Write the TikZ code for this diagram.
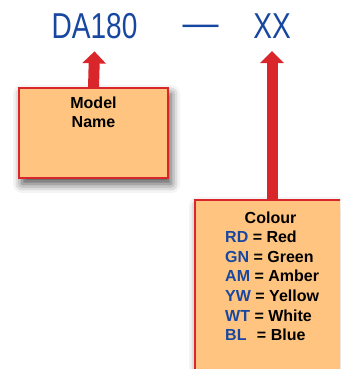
\documentclass[tikz,border=0pt]{standalone}
\usepackage{fontspec}
\setmainfont{Liberation Sans}
\newfontfamily\condfont[FakeStretch=0.78]{Liberation Sans}
\usetikzlibrary{arrows.meta,shadows.blur}
\definecolor{tblue}{HTML}{1747A0}
\definecolor{tred}{HTML}{D9262B}
\definecolor{torange}{HTML}{FFC47F}
\begin{document}
\begin{tikzpicture}[x=1pt,y=-1pt,
  box/.style={draw=tred, line width=2.5pt, fill=torange, inner sep=0pt, outer sep=0pt,
    blur shadow={shadow xshift=3pt, shadow yshift=-6pt, shadow blur radius=9pt, shadow opacity=70}},
  bigarrow/.style={draw=tred, line width=11pt, -{Triangle[width=23pt,length=12pt]}},
  title/.style={text=tblue, font=\condfont\fontsize{36}{40}\selectfont, inner sep=0pt, outer sep=0pt},
  dashtxt/.style={text=tblue, font=\fontsize{36}{40}\selectfont, inner sep=0pt},
  lbl/.style={font=\bfseries\fontsize{16}{19.6}\selectfont, inner sep=0pt}]
\useasboundingbox (0,0) rectangle (340,369);
\clip (0,0) rectangle (340,369);
% title
\node[title, anchor=base] (da) at (94.5,38) {DA180};
\node[dashtxt, anchor=base] (dash) at (200.5,36) {—};
\node[title, anchor=base] (xx) at (272,38) {XX};
% boxes
\node[box, minimum width=149pt, minimum height=90pt, anchor=north west] (mbox) at (19,88) {};
\node[box, minimum width=170pt, minimum height=200pt, anchor=north west] (cbox) at (195,200) {};
% arrows
\draw[bigarrow] (mbox.north) -- ([yshift=-13pt]da.south);
\draw[bigarrow] (cbox.north west -| xx.south) -- ([yshift=-13pt]xx.south);
% labels
\node[lbl, anchor=north, align=center] (mtxt) at (93.5,96.5) {Model\\Name};
\node[lbl, anchor=north] (ctitle) at (270.5,211.5) {Colour};
\node[lbl, anchor=north west, align=left] (clist) at (225,231) {%
\textcolor{tblue}{RD} = Red\\
\textcolor{tblue}{GN} = Green\\
\textcolor{tblue}{AM} = Amber\\
\textcolor{tblue}{YW} = Yellow\\
\textcolor{tblue}{WT} = White\\
\textcolor{tblue}{BL}\hspace{6pt} = Blue};
\end{tikzpicture}
\end{document}
